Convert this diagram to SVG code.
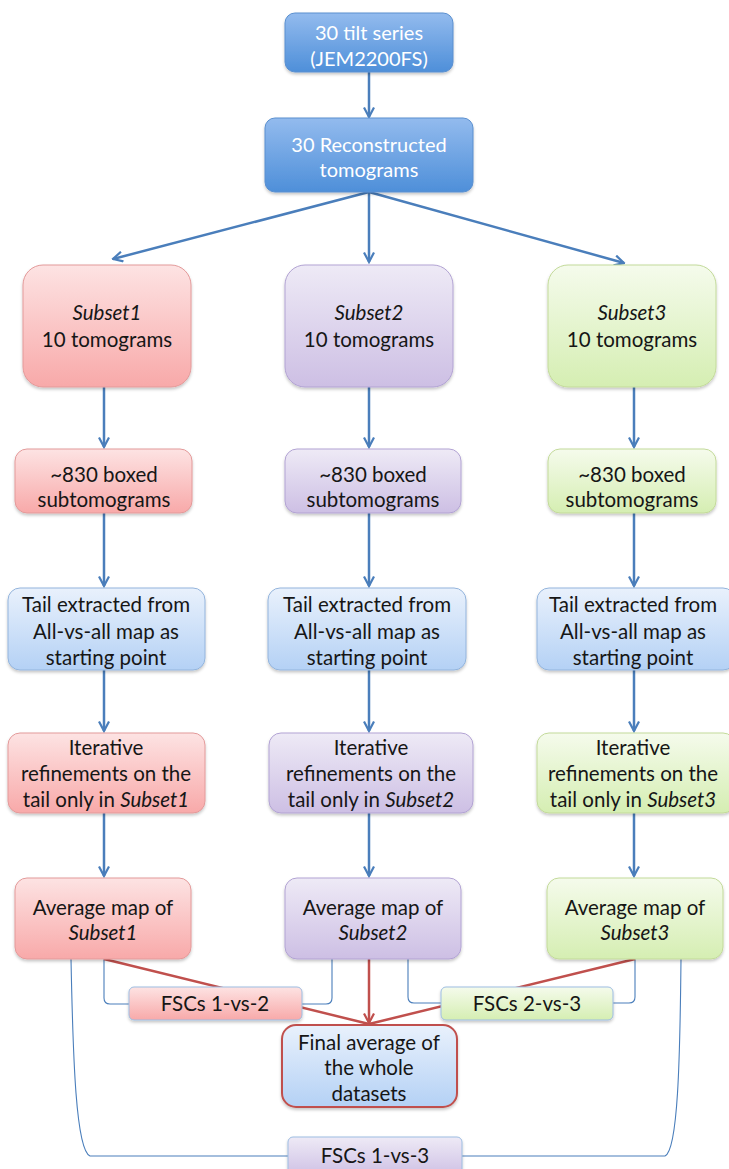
<svg xmlns="http://www.w3.org/2000/svg" width="729" height="1169" viewBox="0 0 729 1169">
<defs>
<linearGradient id="gTop" x1="0" y1="0" x2="0" y2="1"><stop offset="0" stop-color="#93bbee"/><stop offset="1" stop-color="#4e8fd9"/></linearGradient>
<linearGradient id="gRed" x1="0" y1="0" x2="0" y2="1"><stop offset="0" stop-color="#fde3e3"/><stop offset="1" stop-color="#f8a9a9"/></linearGradient>
<linearGradient id="gPur" x1="0" y1="0" x2="0" y2="1"><stop offset="0" stop-color="#eeeaf6"/><stop offset="1" stop-color="#cdbfe4"/></linearGradient>
<linearGradient id="gGrn" x1="0" y1="0" x2="0" y2="1"><stop offset="0" stop-color="#f5fbec"/><stop offset="1" stop-color="#d5eeb2"/></linearGradient>
<linearGradient id="gBlu" x1="0" y1="0" x2="0" y2="1"><stop offset="0" stop-color="#e9f1fc"/><stop offset="1" stop-color="#b4d1f5"/></linearGradient>
<filter id="sh" x="-10%" y="-10%" width="120%" height="130%"><feDropShadow dx="0" dy="2" stdDeviation="1.5" flood-color="#000" flood-opacity="0.22"/></filter>
<marker id="ab" viewBox="0 0 12 12" refX="10.5" refY="6" markerWidth="12" markerHeight="12" markerUnits="userSpaceOnUse" orient="auto"><path d="M1,1 L10.5,6 L1,11" fill="none" stroke="#4a7ebb" stroke-width="2.2"/></marker>
<marker id="ar" viewBox="0 0 12 12" refX="10.5" refY="6" markerWidth="12" markerHeight="12" markerUnits="userSpaceOnUse" orient="auto"><path d="M1,1 L10.5,6 L1,11" fill="none" stroke="#c0504d" stroke-width="2.2"/></marker>
</defs>
<style>
text{font-family:Lato,"Liberation Sans",sans-serif;font-size:20.5px;fill:#161616;text-anchor:middle}
.w{fill:#fff;font-size:20px}
.i{font-style:italic}
.arr{fill:none;stroke:#4a7ebb;stroke-width:2.5;marker-end:url(#ab)}
.thin{fill:none;stroke:#4a7ebb;stroke-width:1.1}
.red{fill:none;stroke:#c0504d;stroke-width:2.5}
.top{fill:url(#gTop);stroke:#5a8fcf;stroke-width:1;filter:url(#sh)}
.r{fill:url(#gRed);stroke:#e39a9a;stroke-width:1;filter:url(#sh)}
.p{fill:url(#gPur);stroke:#b2a3d3;stroke-width:1;filter:url(#sh)}
.g{fill:url(#gGrn);stroke:#c3da9a;stroke-width:1;filter:url(#sh)}
.b{fill:url(#gBlu);stroke:#93b4dc;stroke-width:1;filter:url(#sh)}
.fr{fill:url(#gRed);stroke:#9dbde2;stroke-width:1;filter:url(#sh)}
.fp{fill:url(#gPur);stroke:#9dbde2;stroke-width:1;filter:url(#sh)}
.fg{fill:url(#gGrn);stroke:#9dbde2;stroke-width:1;filter:url(#sh)}
.fin{fill:url(#gBlu);stroke:#c0504d;stroke-width:2;filter:url(#sh)}
</style>
<rect width="729" height="1169" fill="#fff"/>
<g id="connectors">
<path class="arr" d="M369,72 L369,117"/>
<path class="arr" d="M369,192 L113,259"/>
<path class="arr" d="M369,192 L369,262"/>
<path class="arr" d="M369,192 L624,263"/>
<path class="arr" d="M104,387 L104,447"/>
<path class="arr" d="M369,387 L369,447"/>
<path class="arr" d="M634,387 L634,447"/>
<path class="arr" d="M104,513 L104,586"/>
<path class="arr" d="M369,513 L369,586"/>
<path class="arr" d="M634,513 L634,586"/>
<path class="arr" d="M104,670 L104,731"/>
<path class="arr" d="M369,670 L369,731"/>
<path class="arr" d="M634,670 L634,731"/>
<path class="arr" d="M104,813 L104,876"/>
<path class="arr" d="M369,813 L369,876"/>
<path class="arr" d="M634,813 L634,876"/>
<path class="thin" d="M104,959 L104,998 Q104,1004 110,1004 L129,1004"/>
<path class="thin" d="M332,959 L332,998 Q332,1004 326,1004 L302,1004"/>
<path class="thin" d="M408,959 L408,997 Q408,1003 414,1003 L441,1003"/>
<path class="thin" d="M635,959 L635,997 Q635,1003 629,1003 L613,1003"/>
<path class="thin" d="M71,959 C73,1060 76,1150 90,1156 L288,1156"/>
<path class="thin" d="M681,959 C680,1060 678,1150 665,1156 L462,1156"/>
<path class="red" d="M104,959 L369,1024"/>
<path class="red" d="M635,959 L369,1024"/>
<path class="red" d="M369,959 L369,1023" marker-end="url(#ar)"/>
</g>
<g id="n-tilt"><rect class="top" x="285" y="13" width="168" height="59" rx="10"/><text class="w" x="369" y="40">30 tilt series</text><text class="w" x="369" y="66">(JEM2200FS)</text></g>
<g id="n-recon"><rect class="top" x="265" y="118" width="208" height="74" rx="10"/><text class="w" x="369" y="152">30 Reconstructed</text><text class="w" x="369" y="177">tomograms</text></g>

<g id="n-s1"><rect class="r" x="23" y="265" width="168" height="122" rx="20"/><text class="i" x="107" y="320">Subset1</text><text x="107" y="347">10 tomograms</text></g>
<g id="n-s2"><rect class="p" x="285" y="265" width="168" height="122" rx="20"/><text class="i" x="369" y="320">Subset2</text><text x="369" y="347">10 tomograms</text></g>
<g id="n-s3"><rect class="g" x="548" y="265" width="168" height="122" rx="20"/><text class="i" x="632" y="320">Subset3</text><text x="632" y="347">10 tomograms</text></g>

<g id="n-b1"><rect class="r" x="15" y="449" width="177" height="64" rx="12"/><text x="104" y="482">~830 boxed</text><text x="104" y="507">subtomograms</text></g>
<g id="n-b2"><rect class="p" x="285" y="449" width="176" height="64" rx="12"/><text x="373" y="482">~830 boxed</text><text x="373" y="507">subtomograms</text></g>
<g id="n-b3"><rect class="g" x="548" y="449" width="168" height="64" rx="12"/><text x="632" y="482">~830 boxed</text><text x="632" y="507">subtomograms</text></g>

<g id="n-t1"><rect class="b" x="8" y="588" width="197" height="82" rx="12"/><text x="106" y="612">Tail extracted from</text><text x="106" y="639">All-vs-all map as</text><text x="106" y="665">starting point</text></g>
<g id="n-t2"><rect class="b" x="268" y="588" width="198" height="82" rx="12"/><text x="367" y="612">Tail extracted from</text><text x="367" y="639">All-vs-all map as</text><text x="367" y="665">starting point</text></g>
<g id="n-t3"><rect class="b" x="537" y="588" width="198" height="82" rx="12"/><text x="633" y="612">Tail extracted from</text><text x="633" y="639">All-vs-all map as</text><text x="633" y="665">starting point</text></g>

<g id="n-i1"><rect class="r" x="8" y="733" width="197" height="80" rx="12"/><text x="106" y="755">Iterative</text><text x="106" y="781">refinements on the</text><text x="106" y="807">tail only in <tspan class="i">Subset1</tspan></text></g>
<g id="n-i2"><rect class="p" x="269" y="733" width="204" height="80" rx="12"/><text x="371" y="755">Iterative</text><text x="371" y="781">refinements on the</text><text x="371" y="807">tail only in <tspan class="i">Subset2</tspan></text></g>
<g id="n-i3"><rect class="g" x="537" y="733" width="198" height="80" rx="12"/><text x="633" y="755">Iterative</text><text x="633" y="781">refinements on the</text><text x="633" y="807">tail only in <tspan class="i">Subset3</tspan></text></g>

<g id="n-a1"><rect class="r" x="15" y="878" width="176" height="81" rx="12"/><text x="103" y="915">Average map of</text><text class="i" x="103" y="940">Subset1</text></g>
<g id="n-a2"><rect class="p" x="285" y="878" width="176" height="81" rx="12"/><text x="373" y="915">Average map of</text><text class="i" x="373" y="940">Subset2</text></g>
<g id="n-a3"><rect class="g" x="547" y="878" width="176" height="81" rx="12"/><text x="635" y="915">Average map of</text><text class="i" x="635" y="940">Subset3</text></g>

<g id="n-f12"><rect class="fr" x="129" y="987" width="173" height="33" rx="5"/><text x="215" y="1011">FSCs 1-vs-2</text></g>
<g id="n-f23"><rect class="fg" x="441" y="987" width="172" height="33" rx="5"/><text x="527" y="1011">FSCs 2-vs-3</text></g>
<g id="n-final"><rect class="fin" x="282" y="1025" width="175" height="82" rx="14"/><text x="369" y="1050">Final average of</text><text x="369" y="1075">the whole</text><text x="369" y="1101">datasets</text></g>
<g id="n-f13"><rect class="fp" x="288" y="1137" width="174" height="40" rx="5"/><text x="375" y="1163">FSCs 1-vs-3</text></g>
</svg>
